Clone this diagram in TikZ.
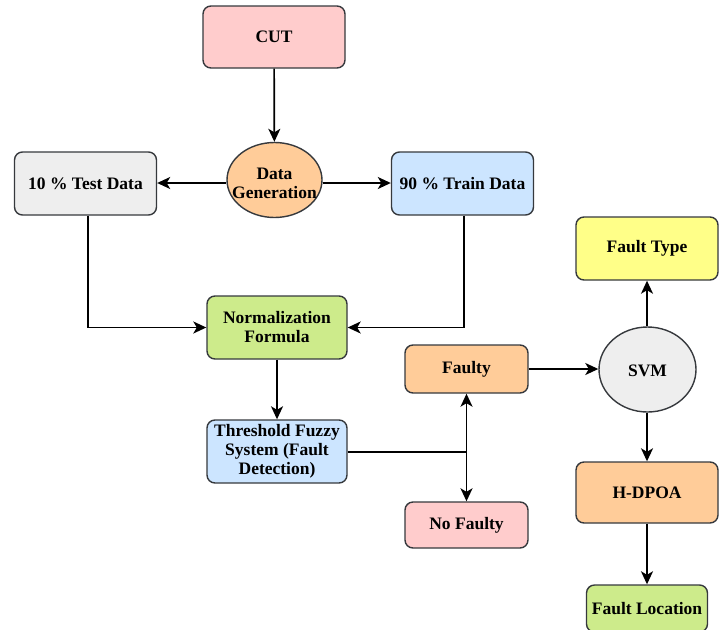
\documentclass[tikz,border=0pt]{standalone}
\usepackage{fontspec}
\setmainfont{Liberation Serif}
\usetikzlibrary{arrows.meta,shapes.geometric}
\definecolor{strk}{HTML}{36393D}
\definecolor{cpink}{HTML}{FFCCCC}
\definecolor{corange}{HTML}{FFCC99}
\definecolor{cgray}{HTML}{EEEEEE}
\definecolor{cblue}{HTML}{CCE5FF}
\definecolor{cgreen}{HTML}{CDEB8B}
\definecolor{cyellow}{HTML}{FFFF88}
\tikzset{
  txt/.style={align=center, font=\fontsize{17.5}{19}\selectfont\bfseries},
  box/.style={draw=strk, line width=1.4pt, rounded corners=8pt, minimum width=#1, txt, inner sep=2pt},
  box/.default=142pt,
  oval/.style={ellipse, draw=strk, line width=1.4pt, inner sep=0pt},
  conn/.style={line width=1.7pt, -{Stealth[length=13pt,width=12pt,inset=3.5pt]}},
  plain/.style={line width=1.7pt}
}
\begin{document}
\begin{tikzpicture}[x=1pt,y=-1pt]
\useasboundingbox (0,0) rectangle (727,629);
\begin{scope}
\clip (0,0) rectangle (727,629);
\node[box, fill=cpink, minimum height=62pt] (cut) at (274,37) {CUT};
\node[oval, fill=corange, minimum width=95pt, minimum height=75pt, label={[txt, yshift=-3pt]center:Data\\Generation}] (gen) at (274.5,180) {};
\node[box, fill=cgray, minimum height=63pt] (test) at (85.5,183.5) {10 \% Test Data};
\node[box, fill=cblue, minimum height=63pt] (train) at (462.5,183.5) {90 \% Train Data};
\node[box=140pt, fill=cgreen, minimum height=63pt] (norm) at (277,327.5) {Normalization\\Formula};
\node[box=140pt, fill=cblue, minimum height=63pt] (thr) at (277,451.5) {Threshold Fuzzy\\System (Fault\\Detection)};
\node[box=123pt, fill=corange, minimum height=48pt] (faulty) at (466.5,369) {Faulty};
\node[box=123pt, fill=cpink, minimum height=46pt] (nof) at (466.5,525) {No Faulty};
\node[box, fill=cyellow, minimum height=63pt] (ftype) at (647,248.5) {Fault Type};
\node[oval, fill=cgray, minimum width=97pt, minimum height=85pt, label={[txt, yshift=-1pt]center:SVM}] (svm) at (647.5,369.5) {};
\node[box, fill=corange, minimum height=61pt] (hdpoa) at (647,492.5) {H-DPOA};
\node[box=121pt, fill=cgreen, minimum height=47pt] (floc) at (647,608.5) {Fault Location};
\coordinate (j) at (466.5,452);
\coordinate (ay) at (0,183);
\draw[conn] (cut) -- (gen);
\draw[conn] (gen.west |- ay) -- (test.east |- ay);
\draw[conn] (gen.east |- ay) -- (train.west |- ay);
\draw[conn] (test.south -| 88,0) |- (norm.west);
\draw[conn] (train.south -| 464,0) |- (norm.east);
\draw[conn] (norm) -- (thr);
\draw[plain] (thr.east |- j) -- (j);
\draw[conn] (j) -- (faulty.south);
\draw[conn] (j) -- (nof.north);
\draw[conn] (faulty) -- (svm.west |- faulty);
\draw[conn] (svm.north -| ftype) -- (ftype);
\draw[conn] (svm.south -| hdpoa) -- (hdpoa);
\draw[conn] (hdpoa) -- (floc);
\end{scope}
\end{tikzpicture}
\end{document}
